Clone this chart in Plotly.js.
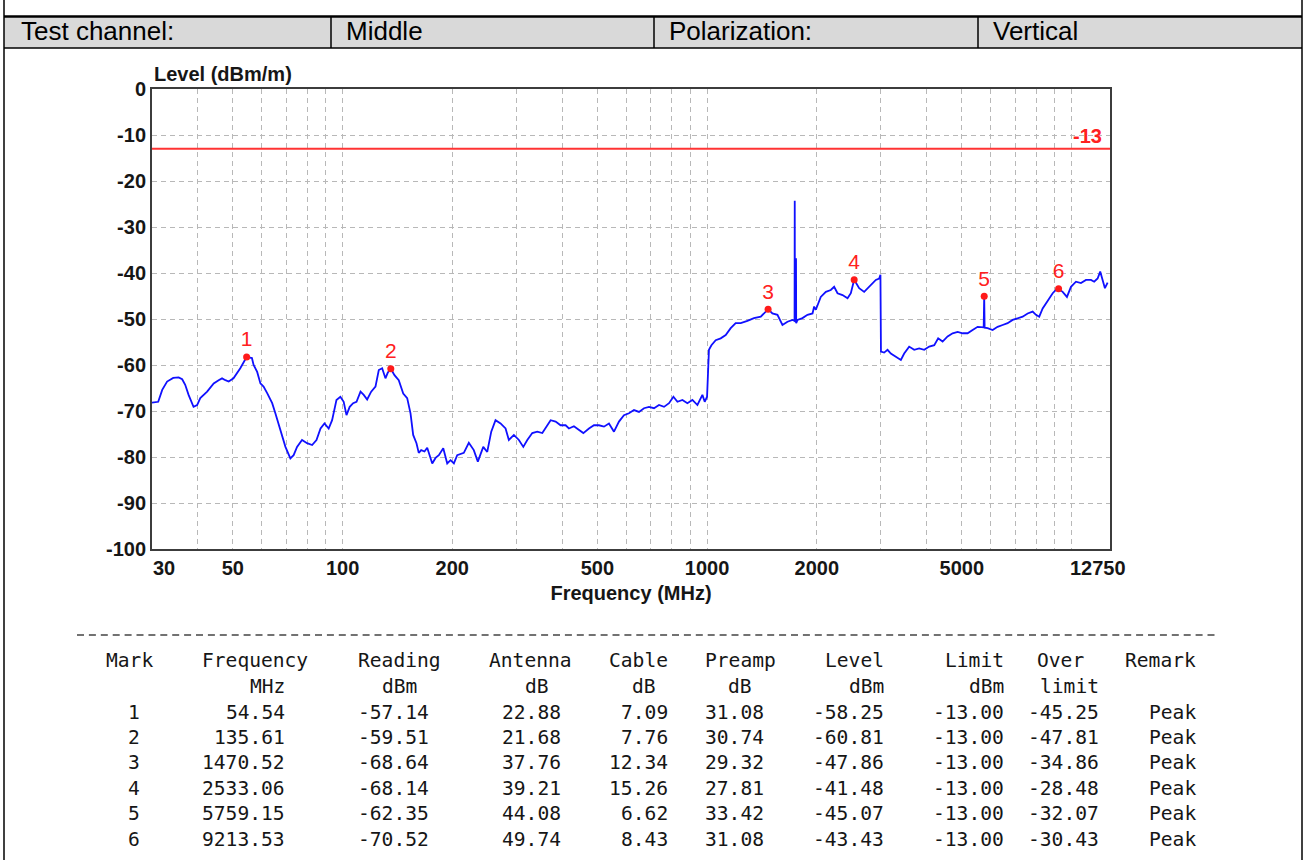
<!DOCTYPE html>
<html>
<head>
<meta charset="utf-8">
<script src="https://cdn.plot.ly/plotly-3.0.1.min.js"></script>
<style>
  html, body { margin: 0; padding: 0; background: #ffffff; }
  #chart { width: 1306px; height: 860px; }
</style>
</head>
<body>
<div id="chart"></div>
<script>
// ---------------- data ----------------
const headerCells = ['Test channel:', 'Middle', 'Polarization:', 'Vertical'];

const specFreq = [30,31.2,32.0,33.0,34.3,35.5,36.3,37.0,37.8,39.0,39.9,40.7,42.5,44.3,45.7,46.7,47.7,48.7,50.2,52.4,54.54,56.4,57.0,58.3,59.5,60.7,62.1,64.1,65.4,67.5,69.7,71.9,73.4,75.0,77.4,79.9,82.5,84.8,87.0,89.2,91.6,93.6,96.2,98.6,100.7,102.5,104.6,106.9,109.2,112.0,114.3,116.8,119.8,123.1,125.7,128.4,131.1,133.0,135.61,138.8,142.6,146.7,150.4,153.6,156.2,159.5,161.8,164.3,167.8,170.7,173.5,176.2,179.9,183.7,188.9,193.7,197.8,202.0,206.3,215.1,222.0,229.1,235.0,243.2,249.4,255.8,262.8,271.3,280.0,285.9,295.1,304.6,313.2,321.2,331.5,342.1,353.2,360.6,372.2,384.1,396.4,409.2,417.8,431.2,445.1,457.7,474.2,489.4,505.1,521.4,538.1,555.4,573.2,591.6,610.6,630.2,650.5,671.4,692.9,715.2,738.2,761.9,786.4,808.6,829.3,855.9,883.1,911.6,940.9,971.0,985.3,1000,1012,1028,1056,1090,1125,1161,1198,1237,1290,1345,1404,1470.52,1511,1560,1610,1662,1715,1738,1740,1742,1752,1754,1756,1771,1827,1886,1947,1967,1988,2051,2118,2185,2232,2280,2353,2429,2480,2533.06,2614,2698,2784,2844,2904,2966,2990,3000,3061,3127,3193,3296,3402,3474,3585,3701,3820,3943,4070,4201,4306,4428,4570,4718,4869,5025,5186,5353,5525,5740,5759.15,5775,5884,6074,6268,6470,6677,6892,7113,7342,7578,7821,7987,8154,8332,8600,8877,9159,9213.53,9455,9714,9963,10283,10612,10955,11306,11539,11791,11985,12169,12347,12560];
const specLevel = [-68.2,-68.0,-65.4,-63.6,-62.8,-62.7,-63.1,-64.3,-66.5,-69.1,-68.7,-67.2,-65.8,-64.0,-63.3,-62.9,-63.3,-63.6,-62.9,-60.7,-58.25,-58.5,-60.0,-61.5,-64.0,-64.7,-66.1,-68.3,-70.5,-74.1,-77.8,-80.3,-79.6,-77.8,-76.3,-77.0,-77.4,-76.3,-73.8,-72.7,-73.8,-72.0,-67.6,-66.9,-68.0,-70.9,-69.1,-68.3,-68.0,-65.8,-66.5,-67.5,-65.8,-64.7,-61.1,-60.7,-62.9,-61.7,-60.81,-62.2,-63.3,-66.2,-67.2,-70.5,-75.2,-77.0,-79.1,-78.5,-78.8,-78.0,-79.6,-81.4,-80.2,-79.6,-78.1,-81.4,-80.7,-81.4,-79.6,-79.1,-76.9,-78.5,-81.0,-77.8,-78.9,-74.5,-72.0,-72.7,-73.8,-76.3,-75.2,-76.3,-77.8,-76.3,-74.8,-74.5,-74.8,-73.8,-72.0,-72.3,-73.1,-73.1,-73.8,-73.3,-74.1,-74.8,-73.8,-73.1,-73.1,-73.4,-72.7,-74.5,-72.3,-70.9,-70.5,-69.8,-70.2,-69.4,-69.1,-69.4,-68.7,-69.1,-68.3,-66.9,-68.0,-67.6,-68.3,-67.6,-68.7,-66.5,-68.0,-66.9,-56.7,-55.7,-54.6,-54.2,-53.5,-52.0,-50.9,-50.9,-50.4,-49.8,-49.5,-47.86,-48.8,-49.1,-51.3,-50.6,-50.2,-50.4,-24.3,-50.5,-50.6,-36.8,-50.9,-50.2,-49.8,-49.1,-48.8,-47.3,-48.0,-45.2,-44.1,-43.7,-43.0,-44.4,-44.8,-45.5,-44.4,-41.48,-43.3,-44.1,-43.0,-42.2,-41.5,-41.2,-40.4,-57.1,-57.3,-56.7,-57.5,-58.2,-58.9,-57.5,-56.0,-56.7,-56.4,-56.7,-56.0,-55.7,-54.2,-54.9,-53.8,-53.1,-52.8,-53.1,-53.1,-52.4,-51.7,-51.8,-45.07,-51.9,-52.0,-52.4,-51.7,-51.3,-50.9,-50.2,-49.8,-49.5,-48.8,-48.4,-49.1,-49.5,-47.7,-45.9,-44.4,-43.3,-43.43,-44.1,-45.2,-43.0,-41.9,-42.2,-41.5,-41.5,-41.9,-41.2,-39.7,-41.5,-43.3,-42.1];

const limitLevel = -13;

const markNo      = [1, 2, 3, 4, 5, 6];
const markFreq    = [54.54, 135.61, 1470.52, 2533.06, 5759.15, 9213.53];
const markReading = [-57.14, -59.51, -68.64, -68.14, -62.35, -70.52];
const markAntenna = [22.88, 21.68, 37.76, 39.21, 44.08, 49.74];
const markCable   = [7.09, 7.76, 12.34, 15.26, 6.62, 8.43];
const markPreamp  = [31.08, 30.74, 29.32, 27.81, 33.42, 31.08];
const markLevel   = [-58.25, -60.81, -47.86, -41.48, -45.07, -43.43];
const markLimit   = [-13.00, -13.00, -13.00, -13.00, -13.00, -13.00];
const markOver    = [-45.25, -47.81, -34.86, -28.48, -32.07, -30.43];
const markRemark  = ['Peak', 'Peak', 'Peak', 'Peak', 'Peak', 'Peak'];

const tableHead1 = ['Mark', 'Frequency', 'Reading', 'Antenna', 'Cable', 'Preamp', 'Level', 'Limit', 'Over', 'Remark'];
const tableHead2 = ['', 'MHz', 'dBm', 'dB', 'dB', 'dB', 'dBm', 'dBm', 'limit', ''];

const xTickVals = [30, 50, 100, 200, 500, 1000, 2000, 5000, 12750];
const xTickText = ['30', '50', '100', '200', '500', '1000', '2000', '5000', '12750'];
const xGridExtra = [40, 60, 70, 80, 90, 300, 400, 600, 700, 800, 900, 3000, 4000, 6000, 7000, 8000, 9000, 10000];
const yTickVals = [0, -10, -20, -30, -40, -50, -60, -70, -80, -90, -100];
const yTickText = ['0', '-10', '-20', '-30', '-40', '-50', '-60', '-70', '-80', '-90', '-100'];

// ---------------- layout helpers ----------------
const W = 1306, H = 860;
const PL = 152, PR = 1110, PT = 89, PB = 549;
const PW = PR - PL, PH = PB - PT;
const px = p => (p - PL) / PW;
const py = p => (PB - p) / PH;

const axisFont = {family: 'Liberation Sans, Arial, sans-serif', size: 20, color: '#161616', weight: 'bold'};
const monoFont = {family: 'DejaVu Sans Mono, monospace', size: 19.6, color: '#161616'};
const hdrFont  = {family: 'Liberation Sans, Arial, sans-serif', size: 26, color: '#000000'};
const gridColor = '#b8b8b8';

const traces = [
  {x: [xTickVals[0], xTickVals[xTickVals.length - 1]], y: [limitLevel, limitLevel], mode: 'lines',
   line: {color: '#ff3333', width: 2}, hoverinfo: 'skip'},
  {x: specFreq, y: specLevel, mode: 'lines', line: {color: '#1010ff', width: 1.8}},
  {x: markFreq, y: markLevel, mode: 'markers+text', text: markNo.map(String), textposition: 'top center',
   marker: {color: '#ff1a1a', size: 7}, textfont: {family: 'Liberation Sans, Arial, sans-serif', size: 21, color: '#ff2020'}}
];

const annotations = [];
// axis label
annotations.push({xref: 'paper', yref: 'paper', x: px(152), y: py(74), xanchor: 'left', yanchor: 'middle',
  text: 'Level (dBm/m)', showarrow: false, font: axisFont});
// edge x tick labels
annotations.push({xref: 'paper', yref: 'paper', x: px(151), y: py(568), xanchor: 'left', yanchor: 'middle',
  text: xTickText[0], showarrow: false, font: axisFont});
annotations.push({xref: 'paper', yref: 'paper', x: px(1098), y: py(568), xanchor: 'center', yanchor: 'middle',
  text: xTickText[xTickText.length - 1], showarrow: false, font: axisFont});
// limit label
annotations.push({xref: 'paper', yref: 'y', x: px(1104), y: limitLevel, xanchor: 'right', yanchor: 'bottom',
  text: String(limitLevel), showarrow: false, font: {family: 'Liberation Sans, Arial, sans-serif', size: 20, color: '#ff2020', weight: 'bold'}});

// header row
const hdrX = [19, 344, 667, 991];
headerCells.forEach((t, i) => annotations.push({xref: 'paper', yref: 'paper', x: px(hdrX[i]), y: py(31),
  xanchor: 'left', yanchor: 'middle', text: t, showarrow: false, font: hdrFont}));

// table
const head1Right = [153, 308, 441, 572, 668, 776, 884, 1004, 1084, 1196];
const head2Right = [0, 285, 417, 549, 656, 752, 884, 1004, 1099, 0];
const valRight   = [140, 285, 429, 561, 668, 764, 884, 1004, 1099, 1196];
const rowY0 = 712, rowStep = 25.4;
const cell = (t, xr, yc) => ({xref: 'paper', yref: 'paper', x: px(xr + 2), y: py(yc), xanchor: 'right', yanchor: 'middle',
  text: t, showarrow: false, font: monoFont});
tableHead1.forEach((t, i) => annotations.push(cell(t, head1Right[i], 660)));
tableHead2.forEach((t, i) => { if (t) annotations.push(cell(t, head2Right[i], 686)); });
const f2 = v => v.toFixed(2);
markNo.forEach((m, r) => {
  const yc = rowY0 + r * rowStep;
  const vals = [String(m), f2(markFreq[r]), f2(markReading[r]), f2(markAntenna[r]), f2(markCable[r]),
    f2(markPreamp[r]), f2(markLevel[r]), f2(markLimit[r]), f2(markOver[r]), markRemark[r]];
  vals.forEach((t, i) => annotations.push(cell(t, valRight[i], yc)));
});

const line = (x0, y0, x1, y1, w, c, dash) => ({type: 'line', xref: 'paper', yref: 'paper',
  x0: px(x0), y0: py(y0), x1: px(x1), y1: py(y1), line: {color: c || '#000', width: w, dash: dash || 'solid'}});
const shapes = [
  {type: 'rect', xref: 'paper', yref: 'paper', x0: px(4), x1: px(1302), y0: py(17), y1: py(48),
   fillcolor: '#d9d9d9', line: {width: 0}, layer: 'below'},
  line(4, 0, 4, 860, 1.5),
  line(1302, 0, 1302, 860, 1.5),
  line(4, 16.5, 1302, 16.5, 2.5),
  line(4, 48, 1302, 48, 1.5),
  line(331, 17, 331, 48, 1.5),
  line(654, 17, 654, 48, 1.5),
  line(978, 17, 978, 48, 1.5),
  line(77, 635, 1218, 635, 1.3, '#444', '7px,4.9px')
];

const layout = {
  width: W, height: H,
  margin: {l: PL, r: W - PR, t: PT, b: H - PB, pad: 0},
  paper_bgcolor: '#ffffff', plot_bgcolor: '#ffffff',
  showlegend: false,
  xaxis: {
    type: 'log', range: [Math.log10(xTickVals[0]), Math.log10(xTickVals[xTickVals.length - 1])],
    tickmode: 'array', tickvals: xTickVals.slice(1, -1), ticktext: xTickText.slice(1, -1),
    ticks: '', tickfont: axisFont, ticklabelstandoff: 0,
    showgrid: true, gridcolor: gridColor, gridwidth: 1, griddash: '5px,4px',
    minor: {tickmode: 'array', tickvals: xGridExtra, showgrid: true, gridcolor: gridColor, gridwidth: 1, griddash: '5px,4px', ticks: ''},
    showline: true, mirror: true, linecolor: '#3c3c3c', linewidth: 2, zeroline: false,
    title: {text: 'Frequency (MHz)', font: axisFont, standoff: 8}
  },
  yaxis: {
    range: [yTickVals[yTickVals.length - 1], yTickVals[0]],
    tickmode: 'array', tickvals: yTickVals, ticktext: yTickText,
    ticks: '', tickfont: axisFont,
    showgrid: true, gridcolor: gridColor, gridwidth: 1, griddash: '5px,4px',
    showline: true, mirror: true, linecolor: '#3c3c3c', linewidth: 2, zeroline: false
  },
  annotations: annotations,
  shapes: shapes
};

Plotly.newPlot('chart', traces, layout, {displayModeBar: false, staticPlot: true});
</script>
</body>
</html>
